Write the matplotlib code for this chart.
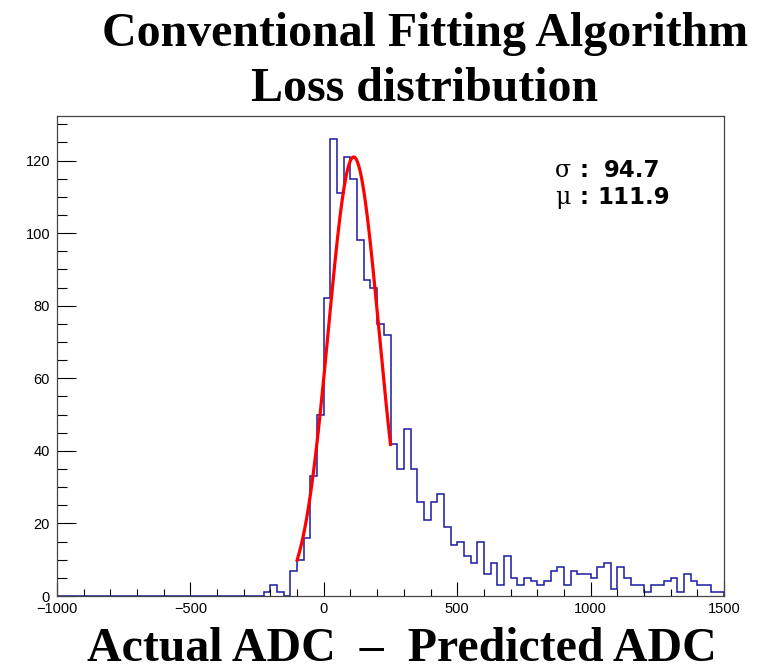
import numpy as np
import matplotlib
matplotlib.use("Agg")
import matplotlib.pyplot as plt

# histogram: 100 bins of width 25 from -1000 to 1500
bin_edges = np.arange(-1000, 1501, 25)
counts = [0] * 31 + [
    1, 3, 1, 0, 7, 10, 16, 33, 50,                # -225 .. 0
    82, 126, 111, 121, 115, 98, 87, 85, 75, 72,   # 0 .. 250
    42, 35, 46, 35, 26, 21, 26, 28, 19, 14,       # 250 .. 500
    15, 11, 9, 15, 6, 9, 3, 11, 5, 3,             # 500 .. 750
    5, 4, 3, 4, 7, 8, 3, 7, 6, 6,                 # 750 .. 1000
    5, 8, 9, 2, 8, 5, 3, 3, 1, 3,                 # 1000 .. 1250
    3, 4, 5, 1, 6, 4, 3, 3, 1, 1,                 # 1250 .. 1500
]

# gaussian fit result
fit_amp = 121.0
fit_mu = 111.9
fit_sigma = 94.7
fit_range = (-100, 250)

fig = plt.figure(figsize=(7.59, 6.71), dpi=100)
ax = fig.add_axes([57 / 759, 75 / 671, 667 / 759, 480 / 671])

ax.stairs(counts, bin_edges, color='#1a1aa0', linewidth=1.1)

xf = np.linspace(fit_range[0], fit_range[1], 300)
yf = fit_amp * np.exp(-0.5 * ((xf - fit_mu) / fit_sigma) ** 2)
ax.plot(xf, yf, color='#ff0000', linewidth=2.3)

ax.set_xlim(-1000, 1500)
ax.set_ylim(0, 1.05 * max(counts))

ax.set_xticks(np.arange(-1000, 1501, 500))
ax.set_xticks(np.arange(-1000, 1501, 100), minor=True)
ax.set_yticks(np.arange(0, 121, 20))
ax.set_yticks(np.arange(0, 131, 5), minor=True)
ax.set_xticklabels(['\u22121000', '\u2212500', '0', '500', '1000', '1500'])

ax.tick_params(axis='both', which='both', direction='in', top=False, right=False,
               labelsize=10.5, width=0.8, colors='black')
ax.tick_params(axis='x', which='major', length=10, pad=4)
ax.tick_params(axis='x', which='minor', length=5)
ax.tick_params(axis='y', which='major', length=14, pad=5)
ax.tick_params(axis='y', which='minor', length=7)
for lab in ax.get_xticklabels() + ax.get_yticklabels():
    lab.set_fontfamily('Liberation Sans')
for sp in ax.spines.values():
    sp.set_linewidth(0.9)
    sp.set_color('#444444')

# title and axis label
fig.text(425 / 759, 1 - 46 / 671, 'Conventional Fitting Algorithm', ha='center',
         va='baseline', fontsize=34.5, fontweight='bold', family='Liberation Serif')
fig.text(425 / 759, 1 - 101 / 671, 'Loss distribution', ha='center',
         va='baseline', fontsize=34.5, fontweight='bold', family='Liberation Serif')
ax.set_xlabel('Actual ADC  \u2013  Predicted ADC', fontsize=34.5, fontweight='bold',
              family='Liberation Serif')
ax.xaxis.set_label_coords((402 - 57) / 667, -(661 - 596) / 480)
ax.xaxis.label.set_va('baseline')

# fit statistics
def px(x, y):
    return (x - 57) / 667, (596 - y) / 480

stat_kw = dict(transform=ax.transAxes, va='baseline')
ax.text(*px(555, 177), '\u03c3', fontsize=17, family='DejaVu Serif', **stat_kw)
ax.text(*px(580, 177), ':', fontsize=16.5, family='DejaVu Sans', fontweight='bold', **stat_kw)
ax.text(*px(604, 177), '%.1f' % fit_sigma, fontsize=16.5, family='DejaVu Sans',
        fontweight='bold', **stat_kw)
ax.text(*px(555, 204), '\u03bc', fontsize=17, family='DejaVu Serif', **stat_kw)
ax.text(*px(580, 204), ':', fontsize=16.5, family='DejaVu Sans', fontweight='bold', **stat_kw)
ax.text(*px(597, 204), '%.1f' % fit_mu, fontsize=16.5, family='DejaVu Sans',
        fontweight='bold', **stat_kw)

fig.savefig('out.png', dpi=100)
